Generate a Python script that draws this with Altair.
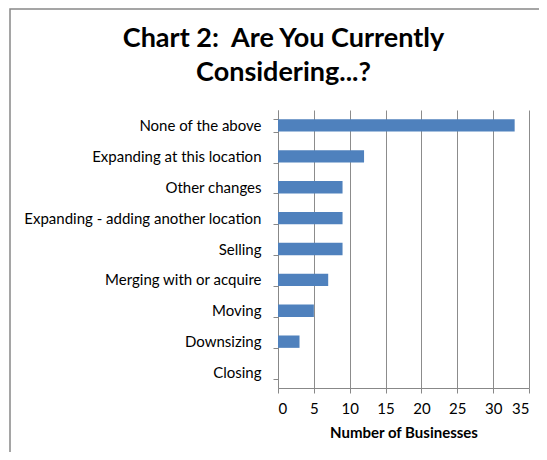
import altair as alt
import pandas as pd

categories = ["None of the above", "Expanding at this location", "Other changes",
              "Expanding - adding another location", "Selling", "Merging with or acquire",
              "Moving", "Downsizing", "Closing"]
values = [33, 12, 9, 9, 9, 7, 5, 3, 0]
x_ticks = [0, 5, 10, 15, 20, 25, 30, 35]

df = pd.DataFrame({"category": categories, "value": values})

FONT = "Lato"

frame = alt.Chart(pd.DataFrame({"a": [0]})).mark_rect(
    fill=None, stroke="#888888", strokeWidth=1.5
).encode(
    x=alt.value(-268), x2=alt.value(300),
    y=alt.value(-101), y2=alt.value(400)
)

bars = alt.Chart(df).mark_bar(color="#4F81BD").encode(
    y=alt.Y("category:N", sort=categories, title=None,
            scale=alt.Scale(paddingInner=0.6, paddingOuter=0.3),
            axis=alt.Axis(labelFont=FONT, labelFontSize=15, labelColor="#000000",
                          labelPadding=12, tickBand="extent", tickSize=5,
                          tickColor="#888888", domainColor="#888888", labelLimit=300)),
    x=alt.X("value:Q", title="Number of Businesses",
            scale=alt.Scale(domain=[0, 35], nice=False),
            axis=alt.Axis(values=x_ticks, grid=True, gridColor="#8c8c8c",
                          labelFont=FONT, labelFontSize=15, labelColor="#000000",
                          titleFont=FONT, titleFontSize=15, titleFontWeight="bold",
                          titleColor="#000000", titlePadding=9, labelPadding=8,
                          tickSize=5, tickColor="#888888", domainColor="#888888"))
)

chart = alt.layer(frame, bars).properties(
    width=251, height=278,
    autosize=alt.AutoSizeParams(type="none"),
    padding={"left": 270, "top": 102, "right": 10, "bottom": 64},
    title=alt.TitleParams(
        text=["Chart 2:\u00a0 Are You Currently", "Considering...?"],
        font=FONT, fontSize=27, fontWeight="bold", color="#000000",
        anchor="middle", frame="group", dx=-120, dy=79, offset=0, lineHeight=34
    )
).configure_view(stroke=None)

chart.save("out.html", embed_options={"renderer": "svg", "actions": False})
